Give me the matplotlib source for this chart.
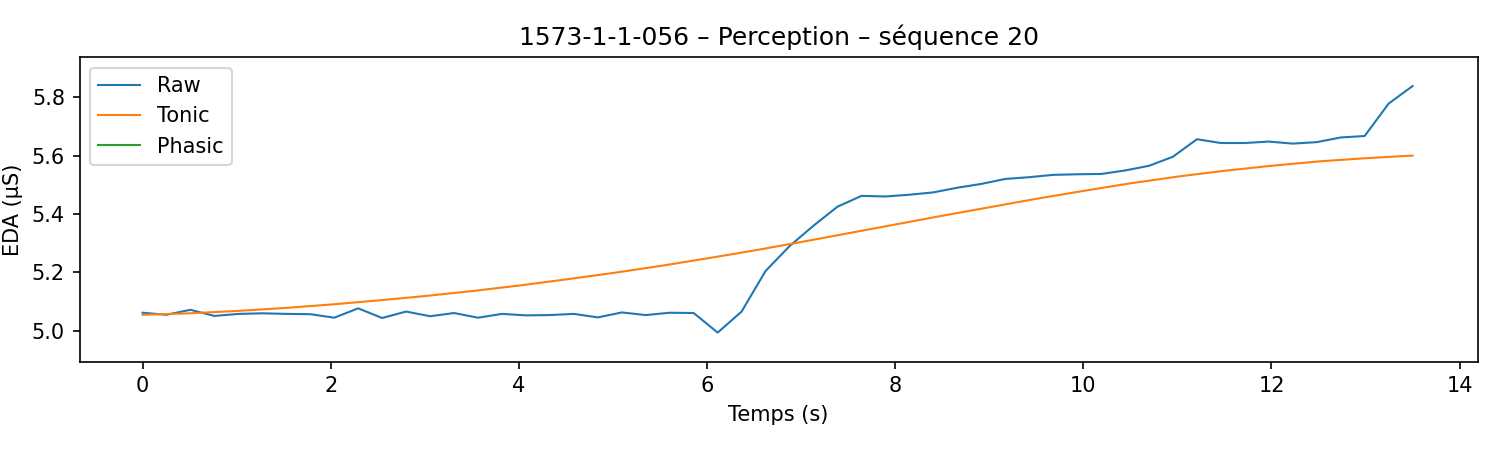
import numpy as np
import matplotlib.pyplot as plt

raw = [5.062, 5.055, 5.072, 5.051, 5.058, 5.060, 5.058, 5.057, 5.045, 5.077,
       5.044, 5.066, 5.050, 5.061, 5.045, 5.058, 5.053, 5.054, 5.058, 5.046,
       5.063, 5.054, 5.062, 5.061, 4.994, 5.066, 5.205, 5.290, 5.360, 5.425,
       5.462, 5.460, 5.466, 5.474, 5.490, 5.503, 5.520, 5.526, 5.534, 5.536,
       5.537, 5.549, 5.565, 5.596, 5.656, 5.643, 5.643, 5.648, 5.641, 5.646,
       5.662, 5.667, 5.778, 5.838]
t_raw = np.linspace(0, 13.5, len(raw))

t_tonic = [0, 0.5, 1, 1.5, 2, 2.5, 3, 3.5, 4, 4.5, 5, 5.5, 6, 6.5, 7, 7.5, 8,
           8.5, 9, 9.5, 10, 10.5, 11, 11.5, 12, 12.5, 13, 13.5]
tonic = [5.055, 5.060, 5.068, 5.078, 5.090, 5.104, 5.119, 5.136, 5.155, 5.176,
         5.198, 5.222, 5.248, 5.275, 5.304, 5.334, 5.364, 5.394, 5.423, 5.452,
         5.479, 5.505, 5.528, 5.548, 5.565, 5.580, 5.591, 5.600]

phasic = []

fig = plt.figure(figsize=(10, 3), dpi=150)
ax = fig.add_axes([0.053, 0.196, 0.932, 0.677])
ax.plot(t_raw, raw, lw=1, label='Raw')
ax.plot(t_tonic, tonic, lw=1, label='Tonic')
ax.plot([], phasic, lw=1, label='Phasic')
ax.set_xlim(-0.67, 14.19)
ax.set_ylim(4.894, 5.937)
ax.set_xlabel('Temps (s)')
ax.set_ylabel('EDA (µS)')
ax.set_title('1573-1-1-056 – Perception – séquence 20')
ax.legend(loc='upper left')
fig.savefig('out.png')
